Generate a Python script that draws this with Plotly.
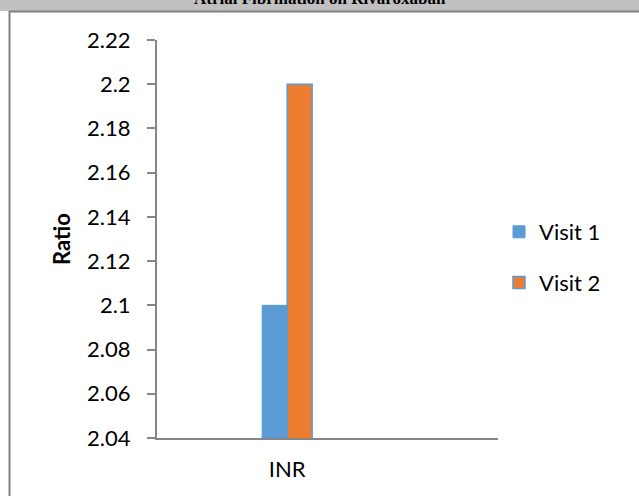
import plotly.graph_objects as go

categories = ["INR"]
visit1 = [2.1]
visit2 = [2.2]
series_names = ["Visit 1", "Visit 2"]
y_ticks = [2.04, 2.06, 2.08, 2.1, 2.12, 2.14, 2.16, 2.18, 2.2, 2.22]
y_tick_labels = ["2.04", "2.06", "2.08", "2.1", "2.12", "2.14", "2.16", "2.18", "2.2", "2.22"]
title_text = "Atrial Fibrillation on Rivaroxaban"

W, H = 639, 496
L, R, T, B = 157, 141, 40, 58
pw, ph = W - L - R, H - T - B

def px(x):
    return (x - L) / pw

def py(y):
    return (H - B - y) / ph

font = "Lato, Open Sans, sans-serif"

fig = go.Figure()
fig.add_trace(go.Bar(x=categories, y=visit1, name=series_names[0],
                     marker=dict(color="#5B9BD5", line=dict(color="#5B9BD5", width=1)),
                     legendgroup="a"))
fig.add_trace(go.Bar(x=categories, y=visit2, name=series_names[1],
                     marker=dict(color="#ED7D31", line=dict(color="#5B9BD5", width=1.5)),
                     legendgroup="b"))

shapes = [
    dict(type="rect", xref="paper", yref="paper", x0=px(-5), x1=px(W + 5), y0=py(11), y1=py(-5),
         fillcolor="#C0C0C0", line=dict(width=0), layer="below"),
    dict(type="line", xref="paper", yref="paper", x0=px(9), x1=px(W + 5), y0=py(11.5), y1=py(11.5),
         line=dict(color="#808080", width=2)),
    dict(type="line", xref="paper", yref="paper", x0=px(9.5), x1=px(9.5), y0=py(11), y1=py(H + 5),
         line=dict(color="#808080", width=2)),
]

fig.update_layout(
    width=W, height=H,
    margin=dict(l=L, r=R, t=T, b=B, autoexpand=False),
    paper_bgcolor="white", plot_bgcolor="white",
    barmode="group", bargap=0.808, bargroupgap=0,
    showlegend=True,
    legend=dict(x=px(499), y=py(211), xanchor="left", yanchor="top",
                font=dict(family=font, size=22, color="#000000"),
                tracegroupgap=19, itemwidth=30, bgcolor="rgba(0,0,0,0)"),
    font=dict(family=font, size=22, color="#000000"),
    shapes=shapes,
    annotations=[dict(text="<b>" + title_text + "</b>", xref="paper", yref="paper",
                      x=px(320), y=py(10), xanchor="center", yanchor="bottom",
                      showarrow=False,
                      font=dict(family="Liberation Serif, serif", size=17, color="#000000"))],
    xaxis=dict(range=[-0.5, 0.81], showline=True, linecolor="#868686", linewidth=2,
               ticks="", ticklabelstandoff=11, showgrid=False, zeroline=False,
               tickfont=dict(family=font, size=22, color="#000000"), fixedrange=True),
    yaxis=dict(range=[2.04, 2.22], tickvals=y_ticks, ticktext=y_tick_labels,
               showline=True, linecolor="#868686", linewidth=2,
               ticks="outside", ticklen=8, tickcolor="#868686", tickwidth=2,
               ticklabelstandoff=12, showgrid=False, zeroline=False, fixedrange=True,
               title=dict(text="<b>Ratio</b>", standoff=10,
                          font=dict(family=font, size=22, color="#000000")),
               tickfont=dict(family=font, size=22, color="#000000")),
)

fig.write_html("out.html", config={"displayModeBar": False},
               post_script="document.body.style.margin='0px';")
